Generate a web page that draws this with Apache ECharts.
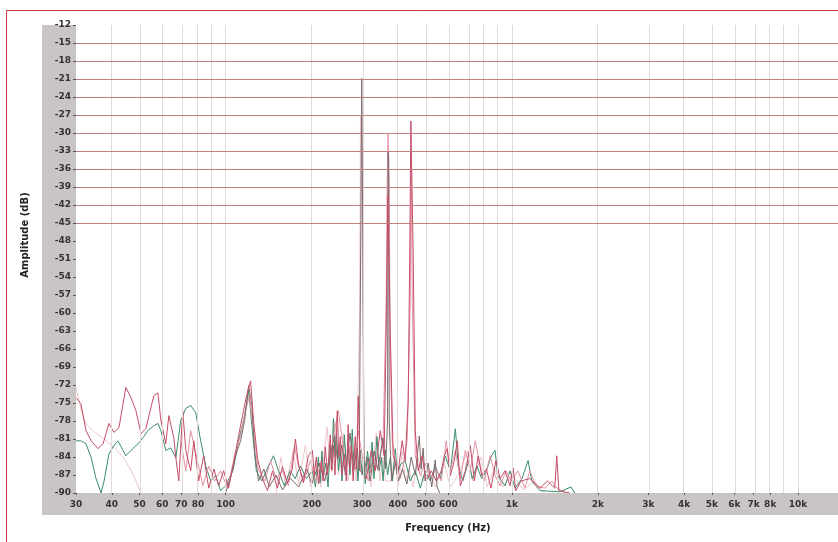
<!DOCTYPE html>
<html>
<head>
<meta charset="utf-8">
<script src="https://cdn.jsdelivr.net/npm/echarts@6/dist/echarts.min.js"></script>
<style>
html, body { margin: 0; padding: 0; background: #fff; }
#chart { width: 838px; height: 542px; }
</style>
</head>
<body>
<div id="chart"></div>
<script>
var tickFreqs = [30, 40, 50, 60, 70, 80, 100, 200, 300, 400, 500, 600, 1000, 2000, 3000, 4000, 5000, 6000, 7000, 8000, 10000];
var tickLabels = ['30', '40', '50', '60', '70', '80', '100', '200', '300', '400', '500', '600', '1k', '2k', '3k', '4k', '5k', '6k', '7k', '8k', '10k'];
var gridFreqs = [40, 50, 60, 70, 80, 90, 100, 200, 300, 400, 500, 600, 700, 800, 900, 1000, 2000, 3000, 4000, 5000, 6000, 7000, 8000, 9000, 10000];
var levelLines = [-15, -18, -21, -24, -27, -30, -33, -36, -39, -42, -45];

// [frequency Hz, level dB]
var paleLow = [[30, -72.4], [31.2, -76], [32.5, -78.5], [34.7, -79.8], [37.6, -81], [40.7, -82.4], [43.8, -84], [46.7, -86.2], [48.6, -88], [50.6, -90]];
var paleHigh = [[150, -90], [156, -84], [162, -89], [172, -83], [180, -88.5], [190, -82], [198, -89], [206, -85], [215, -89], [226, -79], [232, -86], [240, -78], [248, -87], [258, -80], [268, -88], [277, -82], [286, -88], [294, -60], [296, -27], [298.5, -27.5], [301, -60], [304, -87], [312, -85], [322, -89], [336, -80], [346, -88], [355, -84], [362, -88], [378, -88], [390, -84], [400, -89], [414, -83], [425, -88], [438, -86], [452, -89], [470, -84], [490, -88], [510, -86], [540, -89], [580, -85], [610, -89], [650, -87], [700, -83], [730, -88], [780, -84], [820, -89], [870, -86], [930, -89], [1000, -87], [1100, -89.5], [1200, -88], [1300, -90]];
var greenData = [[30, -81.3], [31.2, -81.3], [32.5, -81.8], [33.9, -84.1], [35.2, -87.5], [36.7, -90], [37.6, -88], [39.1, -83.5], [40.7, -82.1], [42, -81.3], [43.8, -82.9], [44.8, -83.8], [46.7, -82.9], [49.4, -81.8], [51.4, -80.8], [53.5, -79.6], [56.1, -78.8], [58, -78.4], [59.4, -79.6], [61.8, -82.9], [64.3, -82.5], [67, -84.1], [69.7, -77.9], [72.6, -75.9], [75.5, -75.4], [78.6, -76.6], [81.8, -81.3], [85.2, -85.5], [88.7, -88], [92.3, -87.1], [96, -89.6], [100, -88.8], [106, -86.3], [111, -81.3], [116.5, -77.1], [120.3, -72.9], [124, -79.6], [128, -86.3], [134, -88], [141, -85.5], [147, -83.8], [153, -86.3], [160.5, -88.8], [168, -86.3], [175, -87.6], [182.5, -85.5], [191.5, -87.6], [201, -86.3], [206, -89], [211, -84], [214, -88.3], [217, -83], [220, -87.1], [224, -85], [228, -89], [232, -82.1], [235, -86], [238, -77.6], [241, -84], [244, -80], [248, -86.3], [251.6, -83], [255, -88], [260, -80.3], [264, -85.6], [268, -82.6], [272, -87], [277, -79.4], [281, -86], [286, -83.3], [290, -88], [295, -82.8], [300, -87], [304, -84], [307.6, -88.5], [313, -83], [320, -86.6], [325, -81.5], [330, -87.6], [334, -84], [338, -80.6], [344, -86.3], [350, -84], [355, -88], [361, -82.8], [368, -87], [376, -84.1], [383, -88], [391.5, -82.6], [398, -87], [407.6, -85.3], [424, -84.6], [442, -88], [460, -86.3], [479, -89.2], [498, -86.3], [519, -88], [540, -85.5], [562, -87.6], [585.5, -83.8], [610, -86.3], [635, -79.3], [650, -85.5], [674, -88], [707, -84.6], [727, -87.6], [755, -85.5], [785, -87.6], [815, -86.3], [849, -83.8], [874, -82.9], [893, -87.1], [947, -88.8], [986, -86.3], [1026, -89.2], [1085, -87.6], [1140, -84.6], [1175, -88], [1253, -89.6], [1471, -89.8], [1610, -89], [1660, -90]];
var pinkData = [[69.7, -81.3], [72.6, -86.3], [75.5, -79.6], [79.3, -84.1], [83.2, -88.8], [87.3, -85.5], [91.5, -88], [96, -86.3], [101.6, -89.2], [107.5, -83.8], [112.8, -80.4], [117.4, -76.3], [121, -73.8], [125, -79.6], [130, -86], [137, -88], [143.5, -84.6], [150, -87.6], [158, -86.3], [165.7, -88.8], [174, -82.1], [179.5, -85.5], [188, -88], [198, -84.6], [206, -88], [214, -85.5], [223, -87.1], [232, -83.8], [242, -78.8], [247.6, -76.3], [256, -81.3], [264, -86.3], [272.6, -82.1], [284, -86.3], [290.6, -79.6], [302, -84.6], [315, -88], [328, -83.8], [341, -86.3], [355, -81.3], [364, -57.9], [367, -37.9], [369.5, -30], [371, -30], [373, -37.9], [376, -66.3], [382, -81.3], [395, -85.5], [407.6, -87.6], [421, -84.6], [431, -81.3], [441.7, -57.9], [445, -34.5], [449, -57.9], [460, -83.8], [479, -87.1], [498, -85], [519, -87.6], [545, -86], [567, -88], [590, -81.3], [610, -86.3], [635, -82.9], [661, -87.6], [688, -82.9], [716, -86.3], [745, -81.3], [769, -84.6], [800, -88], [840, -83.8], [874, -87.1], [910, -88.8], [955, -86.3], [994, -88], [1050, -86.3], [1111, -89.2], [1157, -86.3], [1213, -88.8], [1305, -89.2], [1380, -88], [1424, -89], [1531, -90]];
var grayData = [[100, -90], [104, -87.5], [108, -84], [112.8, -81.3], [116.5, -77.9], [120.3, -72.1], [123.5, -75.4], [126.2, -82.9], [130.3, -88], [136, -86], [142, -89], [150, -87], [158, -89.5], [168, -87.5], [180, -89], [192, -86], [200, -88.5], [212, -85], [222, -88], [232, -84], [240, -80.5], [246, -84.5], [255, -82], [262, -87], [272, -80], [280, -86], [288, -82.5], [293, -86.3], [299, -20.9], [301.5, -20.9], [305, -86.3], [312, -84], [320, -88], [330, -83], [340, -86], [355, -80.8], [362, -86], [368, -78], [369.5, -33], [371, -34], [373, -78], [380, -88], [392, -85], [402, -88], [415, -86], [430, -88.5], [445, -84], [460, -87], [475, -80.5], [482, -86], [490, -82.5], [498, -88], [510, -85], [525, -89], [540, -84.5], [548, -89], [560, -90]];
var redData = [[30, -74.1], [31.2, -75.1], [32.5, -79.6], [33.9, -81.3], [35.8, -82.6], [37.3, -81.8], [39.1, -78.4], [40.7, -79.9], [42.4, -79.1], [44.8, -72.4], [46.7, -74.1], [48.6, -76.3], [50.6, -80.1], [52.6, -79.3], [56.1, -73.8], [58, -73.3], [59.4, -77.9], [61.8, -81.8], [63.3, -77.1], [65.9, -80.8], [67, -84.1], [68.6, -88], [70.8, -76.3], [72.6, -82.9], [75.5, -86.3], [77.4, -81.3], [80.5, -88], [83.8, -83.8], [87.3, -89.2], [91, -86], [94.5, -88.8], [98.4, -86.3], [102.4, -89.2], [106.6, -85], [111, -80.4], [114.6, -77.1], [118.3, -73.8], [122.2, -71.3], [125.2, -77.9], [129.3, -84.3], [134.5, -87.6], [140, -89.6], [145.8, -86.3], [151.6, -89.2], [157.9, -85.6], [164.4, -88.3], [171, -86], [175.3, -81], [179.5, -85], [186.9, -88.3], [194.6, -83.8], [201, -82.9], [204, -87], [207.5, -84], [211, -88.5], [216, -84.6], [219, -88], [223, -82.3], [227, -87], [232, -80.3], [235, -86.3], [238, -82], [241, -87], [245.6, -76.3], [248.5, -84], [251.6, -80.6], [255, -87], [260, -83.6], [264, -88], [268, -78.6], [271, -86], [275, -82.3], [279, -88], [283.7, -80.6], [287, -86], [290.6, -73.8], [295.4, -86.3], [310, -87.6], [323, -82.9], [333, -86.3], [347, -79.6], [358, -83.8], [364, -62.9], [369, -40.4], [372, -40.4], [376, -62.9], [385, -83.8], [401, -86.3], [414, -81.3], [424, -84.6], [434.6, -74.6], [440, -49.6], [444, -28], [447, -28], [452, -49.6], [460, -79.6], [471, -86.3], [486, -83.8], [502, -88], [523, -86.3], [545, -88], [567, -86.3], [581, -83.8], [594, -82.6], [610, -87.1], [630, -84.6], [645, -81.3], [661, -88.8], [688, -86.3], [716, -82.1], [740, -88], [763, -83.8], [785, -87.1], [815, -86], [846, -89.2], [880, -84.6], [910, -87.6], [947, -86.3], [986, -88.8], [1010, -85.8], [1033, -89.6], [1076, -88], [1157, -87.6], [1253, -89.2], [1333, -88], [1413, -89.2], [1436, -83.8], [1460, -89.6], [1594, -90]];

function lg(f) { return Math.log(f) / Math.LN10; }
function toLog(arr) { return arr.map(function (p) { return [lg(p[0]), p[1]]; }); }

var chart = echarts.init(document.getElementById('chart'));

function gridSeries(name, marks, color) {
    return {
        name: name, type: 'line', data: [], silent: true,
        markLine: {
            silent: true, symbol: 'none', animation: false,
            label: { show: false },
            lineStyle: { color: color, width: 1, type: 'solid', opacity: 1 },
            data: marks
        }
    };
}

function trace(name, data, color) {
    return {
        name: name, type: 'line', data: toLog(data),
        showSymbol: false, symbol: 'none', silent: true, clip: true,
        lineStyle: { color: color, width: 1 }
    };
}

chart.setOption({
    animation: false,
    grid: { left: 76, right: 0, top: 25, bottom: 49 },
    graphic: [
        { type: 'rect', z: -10, shape: { x: 42, y: 25, width: 34, height: 490 }, style: { fill: '#c9c5c4' } },
        { type: 'rect', z: -10, shape: { x: 42, y: 493, width: 800, height: 22 }, style: { fill: '#c9c5c4' } },
        { type: 'rect', z: -10, shape: { x: 6.5, y: 10.5, width: 900, height: 600 }, style: { fill: 'none', stroke: '#cc3b3b', lineWidth: 1 } }
    ],
    xAxis: {
        type: 'value', min: lg(30), max: lg(13800),
        name: 'Frequency (Hz)', nameLocation: 'middle', nameGap: 30,
        nameTextStyle: { fontFamily: 'DejaVu Sans', fontSize: 10, fontWeight: 'bold', color: '#222', padding: [0, 18, 0, 0] },
        axisLine: { show: false },
        splitLine: { show: false },
        axisTick: { show: true, length: 2, customValues: tickFreqs.map(lg), lineStyle: { color: '#555' } },
        axisLabel: {
            customValues: tickFreqs.map(lg), margin: 7,
            fontFamily: 'DejaVu Sans', fontSize: 9, fontWeight: 'bold', color: '#333',
            formatter: function (v) {
                for (var i = 0; i < tickFreqs.length; i++) {
                    if (Math.abs(lg(tickFreqs[i]) - v) < 1e-6) return tickLabels[i];
                }
                return '';
            }
        }
    },
    yAxis: {
        type: 'value', min: -90, max: -12, interval: 3,
        name: 'Amplitude (dB)', nameLocation: 'middle', nameGap: 46, nameRotate: 90,
        nameTextStyle: { fontFamily: 'DejaVu Sans', fontSize: 10, fontWeight: 'bold', color: '#222', padding: [0, 0, 0, 48] },
        axisLine: { show: false },
        splitLine: { show: false },
        axisTick: { show: true, length: 3, lineStyle: { color: '#555' } },
        axisLabel: { margin: 5, fontFamily: 'DejaVu Sans', fontSize: 9, fontWeight: 'bold', color: '#333' }
    },
    series: [
        gridSeries('freq grid', gridFreqs.map(function (f) { return { xAxis: lg(f) }; }), '#e4d9d9'),
        gridSeries('level grid', levelLines.map(function (v) { return { yAxis: v }; }), '#c08080'),
        trace('pale low', paleLow, '#e6c9c3'),
        trace('pale', paleHigh, '#ecc6ca'),
        trace('green', greenData, '#3b8c6c'),
        trace('pink', pinkData, '#e394a4'),
        trace('gray', grayData, '#7d6b6d'),
        trace('red', redData, '#c64d68')
    ]
});
</script>
</body>
</html>
